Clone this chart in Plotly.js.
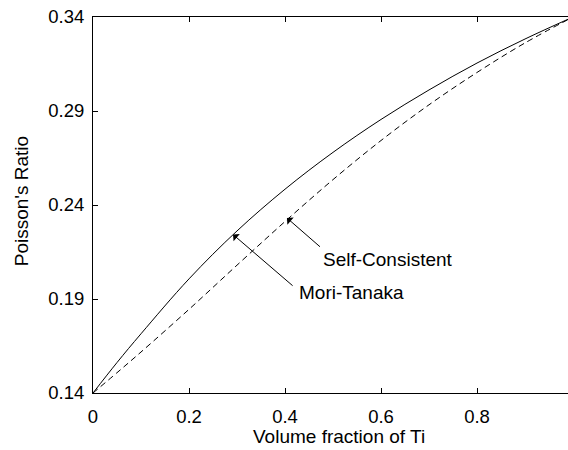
<!DOCTYPE html>
<html>
<head>
<meta charset="utf-8">
<script src="https://cdn.plot.ly/plotly-3.0.1.min.js"></script>
<style>
  html, body { margin: 0; padding: 0; overflow: hidden; background: #fff; }
  #chart { width: 575px; height: 450px; }
</style>
</head>
<body>
<div id="chart"></div>
<script>
// Volume fraction of Ti and the two effective-medium estimates of Poisson's ratio
const volumeFraction = [0, 0.05, 0.1, 0.2, 0.3, 0.4, 0.5, 0.6, 0.7, 0.8, 0.9, 1.0];
const moriTanaka     = [0.14, 0.1562, 0.1715, 0.2007, 0.2262, 0.2484, 0.268, 0.2855, 0.3012, 0.3155, 0.3283, 0.34];
const selfConsistent = [0.14, 0.1508, 0.1618, 0.1845, 0.208, 0.2312, 0.2535, 0.2743, 0.2933, 0.3105, 0.3262, 0.34];

const xTicks = [0, 0.2, 0.4, 0.6, 0.8];
const yTicks = [0.14, 0.19, 0.24, 0.29, 0.34];

const xTitle = 'Volume fraction of Ti';
const yTitle = "Poisson's Ratio";
const labelMT = 'Mori-Tanaka';
const labelSC = 'Self-Consistent';

const FONT = 'Liberation Sans, Arial, Helvetica, sans-serif';

const traces = [
  {
    x: volumeFraction, y: moriTanaka, type: 'scatter', mode: 'lines',
    line: { color: '#000', width: 1, shape: 'spline', smoothing: 1 },
    name: labelMT, hoverinfo: 'skip'
  },
  {
    x: volumeFraction, y: selfConsistent, type: 'scatter', mode: 'lines',
    line: { color: '#000', width: 1, dash: '6px,4px', shape: 'spline', smoothing: 1 },
    name: labelSC, hoverinfo: 'skip'
  }
];

const axisCommon = {
  showgrid: false, zeroline: false,
  showline: true, linecolor: '#000', linewidth: 1,
  mirror: 'ticks', ticks: 'inside', ticklen: 5, tickwidth: 1, tickcolor: '#000',
  tickfont: { family: FONT, size: 18.5, color: '#000' }
};

// Arrows drawn from the label side to a point on each curve
const arrowCommon = {
  xref: 'x', yref: 'y', axref: 'x', ayref: 'y', text: '',
  showarrow: true, arrowhead: 1, arrowsize: 1.6, arrowwidth: 1, arrowcolor: '#000'
};

const layout = {
  width: 575, height: 450,
  margin: { l: 93, r: 2, t: 17, b: 57 },
  paper_bgcolor: '#fff', plot_bgcolor: '#fff',
  showlegend: false,
  xaxis: Object.assign({}, axisCommon, {
    range: [0, 1], tickvals: xTicks, ticktext: xTicks.map(String),
    ticklabelstandoff: 7
  }),
  yaxis: Object.assign({}, axisCommon, {
    range: [0.14, 0.34], tickvals: yTicks, ticktext: yTicks.map(v => v.toFixed(2)),
    ticklabelstandoff: 4
  }),
  annotations: [
    Object.assign({}, arrowCommon, { x: 0.404, y: 0.2331, ax: 0.476, ay: 0.2171 }),
    Object.assign({}, arrowCommon, { x: 0.2917, y: 0.2243, ax: 0.419, ay: 0.1964 }),
    {
      xref: 'x', yref: 'y', x: 0.474, y: 0.2109, xanchor: 'left', yanchor: 'middle',
      text: labelSC, showarrow: false, font: { family: FONT, size: 19, color: '#000' }
    },
    {
      xref: 'x', yref: 'y', x: 0.424, y: 0.1934, xanchor: 'left', yanchor: 'middle',
      text: labelMT, showarrow: false, font: { family: FONT, size: 19, color: '#000' }
    },
    {
      xref: 'paper', yref: 'paper', x: 0.5135, y: -0.117, xanchor: 'center', yanchor: 'middle',
      text: xTitle, showarrow: false, font: { family: FONT, size: 19, color: '#000' }
    },
    {
      xref: 'paper', yref: 'paper', x: -0.15, y: 0.51, xanchor: 'center', yanchor: 'middle',
      text: yTitle, textangle: -90, showarrow: false, font: { family: FONT, size: 19, color: '#000' }
    }
  ]
};

Plotly.newPlot('chart', traces, layout, { staticPlot: true, displayModeBar: false });
</script>
</body>
</html>
